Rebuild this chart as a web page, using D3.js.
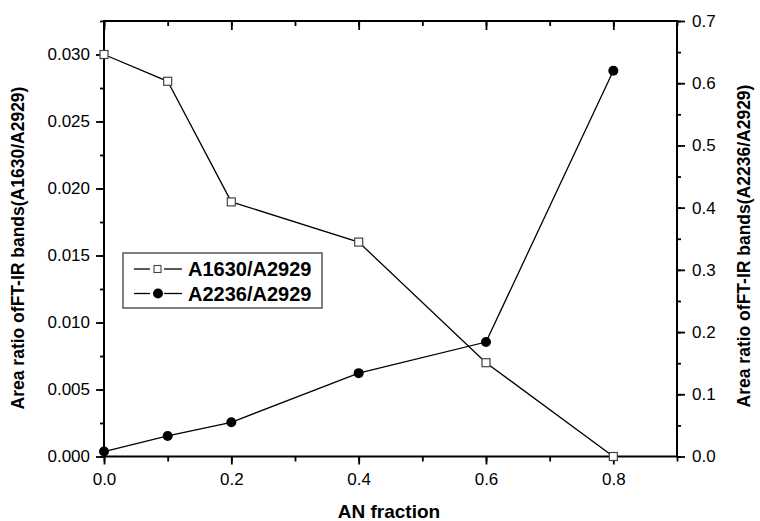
<!DOCTYPE html>
<html>
<head>
<meta charset="utf-8">
<script src="https://cdn.jsdelivr.net/npm/d3@7"></script>
<style>
  body { margin: 0; background: #fff; }
  text { font-family: "Liberation Sans", Arial, sans-serif; }
</style>
</head>
<body>
<svg id="chart" width="760" height="521"></svg>
<script>
// data
const an_fraction = [0.0, 0.1, 0.2, 0.4, 0.6, 0.8]
const a1630_a2929 = [0.030, 0.028, 0.019, 0.016, 0.007, 0.000]
const a2236_a2929 = [0.008, 0.033, 0.055, 0.134, 0.184, 0.620]
const series_names = ["A1630/A2929", "A2236/A2929"]
const x_ticks = [0.0, 0.2, 0.4, 0.6, 0.8]
const left_ticks = [0.000, 0.005, 0.010, 0.015, 0.020, 0.025, 0.030]
const right_ticks = [0.0, 0.1, 0.2, 0.3, 0.4, 0.5, 0.6, 0.7]

const svg = d3.select("#chart")
const m = { left: 104, right: 677, top: 21, bottom: 456.5 }

const x = d3.scaleLinear().domain([0, 0.9]).range([m.left, m.right])
const yL = d3.scaleLinear().domain([0, 0.0325]).range([m.bottom, m.top])
const yR = d3.scaleLinear().domain([0, 0.7]).range([m.bottom, m.top])

const minorX = d3.range(0, 0.9001, 0.1)
const minorL = d3.range(0, 0.0326, 0.0025)
const minorR = d3.range(0, 0.7001, 0.05)

function styleAxis(g) {
    g.selectAll("path").remove()
    g.selectAll("line").attr("stroke", "#000").attr("stroke-width", 1.8)
    g.selectAll("text").attr("fill", "#000").style("font-size", "17px")
}

// minor ticks (no labels)
svg.append("g").attr("transform", `translate(0,${m.bottom})`)
    .call(d3.axisBottom(x).tickValues(minorX).tickSize(5).tickFormat(""))
    .call(styleAxis)
svg.append("g").attr("transform", `translate(0,${m.top})`)
    .call(d3.axisTop(x).tickValues(minorX).tickSize(-5).tickFormat(""))
    .call(styleAxis)
svg.append("g").attr("transform", `translate(${m.left},0)`)
    .call(d3.axisLeft(yL).tickValues(minorL).tickSize(4).tickFormat(""))
    .call(styleAxis)
svg.append("g").attr("transform", `translate(${m.right},0)`)
    .call(d3.axisRight(yR).tickValues(minorR).tickSize(4).tickFormat(""))
    .call(styleAxis)

// major ticks
svg.append("g").attr("transform", `translate(0,${m.bottom})`)
    .call(d3.axisBottom(x).tickValues(x_ticks).tickSize(8).tickPadding(8).tickFormat(d3.format(".1f")))
    .call(styleAxis)
svg.append("g").attr("transform", `translate(0,${m.top})`)
    .call(d3.axisTop(x).tickValues(x_ticks).tickSize(-9).tickFormat(""))
    .call(styleAxis)
svg.append("g").attr("transform", `translate(${m.left},0)`)
    .call(d3.axisLeft(yL).tickValues(left_ticks).tickSize(8).tickPadding(6).tickFormat(d3.format(".3f")))
    .call(styleAxis)
svg.append("g").attr("transform", `translate(${m.right},0)`)
    .call(d3.axisRight(yR).tickValues(right_ticks).tickSize(8).tickPadding(7).tickFormat(d3.format(".1f")))
    .call(styleAxis)

// frame
svg.append("rect")
    .attr("x", m.left).attr("y", m.top)
    .attr("width", m.right - m.left).attr("height", m.bottom - m.top)
    .attr("fill", "none").attr("stroke", "#000").attr("stroke-width", 2)

// series
const sq = an_fraction.map((d, i) => [d, a1630_a2929[i]])
const ci = an_fraction.map((d, i) => [d, a2236_a2929[i]])

svg.append("path").datum(sq)
    .attr("fill", "none").attr("stroke", "#000").attr("stroke-width", 1.3)
    .attr("d", d3.line().x(d => x(d[0])).y(d => yL(d[1])))
svg.append("path").datum(ci)
    .attr("fill", "none").attr("stroke", "#000").attr("stroke-width", 1.3)
    .attr("d", d3.line().x(d => x(d[0])).y(d => yR(d[1])))

svg.selectAll(".sq").data(sq).enter().append("rect")
    .attr("class", "sq")
    .attr("x", d => x(d[0]) - 4).attr("y", d => yL(d[1]) - 4)
    .attr("width", 8).attr("height", 8)
    .attr("fill", "#fff").attr("stroke", "#444").attr("stroke-width", 1.2)
svg.selectAll(".ci").data(ci).enter().append("circle")
    .attr("class", "ci")
    .attr("cx", d => x(d[0])).attr("cy", d => yR(d[1]))
    .attr("r", 5).attr("fill", "#000")

// legend
const lg = svg.append("g").attr("transform", "translate(123,253)")
lg.append("rect").attr("width", 199).attr("height", 55)
    .attr("fill", "#fff").attr("stroke", "#555").attr("stroke-width", 1.5)
series_names.forEach((name, i) => {
    const cy = 16 + i * 24.5
    lg.append("line").attr("x1", 11).attr("x2", 27).attr("y1", cy).attr("y2", cy).attr("stroke", "#000").attr("stroke-width", 1.3)
    lg.append("line").attr("x1", 41).attr("x2", 59).attr("y1", cy).attr("y2", cy).attr("stroke", "#000").attr("stroke-width", 1.3)
    if (i === 0) {
        lg.append("rect").attr("x", 31).attr("y", cy - 3.5).attr("width", 7).attr("height", 7)
            .attr("fill", "#fff").attr("stroke", "#444").attr("stroke-width", 1.1)
    } else {
        lg.append("circle").attr("cx", 35).attr("cy", cy).attr("r", 5).attr("fill", "#000")
    }
    lg.append("text").attr("x", 65).attr("y", cy + 7)
        .style("font-size", "20px").style("font-weight", "bold").text(name)
})

// axis titles
svg.append("text").attr("x", 389).attr("y", 518)
    .attr("text-anchor", "middle").style("font-size", "19px").style("font-weight", "bold")
    .text("AN fraction")
svg.append("text").attr("transform", "translate(24,248) rotate(-90)")
    .attr("text-anchor", "middle").style("font-size", "17.5px").style("font-weight", "bold")
    .text("Area ratio ofFT-IR bands(A1630/A2929)")
svg.append("text").attr("transform", "translate(750,246) rotate(-90)")
    .attr("text-anchor", "middle").style("font-size", "17.5px").style("font-weight", "bold")
    .text("Area ratio ofFT-IR bands(A2236/A2929)")
</script>
</body>
</html>
